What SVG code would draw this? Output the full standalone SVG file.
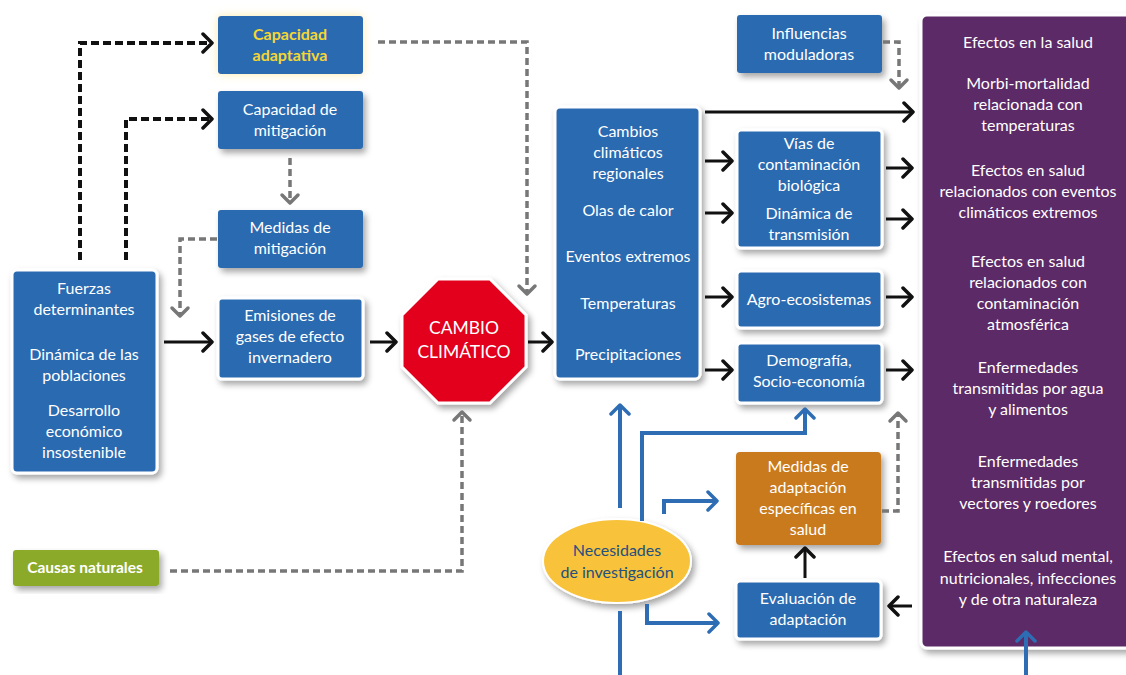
<svg xmlns="http://www.w3.org/2000/svg" width="1126" height="675" viewBox="0 0 1126 675">
<defs>
<filter id="sh" x="-20%" y="-20%" width="140%" height="140%"><feDropShadow dx="3" dy="4" stdDeviation="3" flood-color="#000" flood-opacity="0.35"/></filter>
<filter id="glow" x="-20%" y="-40%" width="140%" height="180%"><feDropShadow dx="0" dy="0" stdDeviation="5" flood-color="#FBE9A0" flood-opacity="0.9"/></filter>
<marker id="ak" markerUnits="userSpaceOnUse" markerWidth="24" markerHeight="26" refX="11" refY="12" orient="auto"><path d="M2,3 L11,12 L2,21" fill="none" stroke="#111" stroke-width="3.5" stroke-linecap="round" stroke-linejoin="round"/></marker>
<marker id="ag" markerUnits="userSpaceOnUse" markerWidth="24" markerHeight="26" refX="11" refY="12" orient="auto"><path d="M3,4 L11,12 L3,20" fill="none" stroke="#777" stroke-width="3.5" stroke-linecap="round" stroke-linejoin="round"/></marker>
<marker id="ab" markerUnits="userSpaceOnUse" markerWidth="24" markerHeight="26" refX="11" refY="12" orient="auto"><path d="M2,3 L11,12 L2,21" fill="none" stroke="#2E6DB4" stroke-width="3.5" stroke-linecap="round" stroke-linejoin="round"/></marker>
<style>
.b{fill:#2C6BB0;filter:url(#sh)}
.bw{fill:#2C6BB0;stroke:#fff;stroke-width:3;filter:url(#sh)}
.t{font-family:"Lato","Liberation Sans",sans-serif;font-size:16px;fill:#fff;text-anchor:middle}
.k{fill:none;stroke:#111;stroke-width:3}
.kd{fill:none;stroke:#111;stroke-width:4;stroke-dasharray:8 4}
.g{fill:none;stroke:#777;stroke-width:3.5;stroke-dasharray:7 4}
.bl{fill:none;stroke:#2E6DB4;stroke-width:4}
</style>
</defs>
<rect width="1126" height="675" fill="#fff"/>

<g id="capacidad-adaptativa">
<rect x="218" y="16" width="145" height="58" rx="3" fill="#2C6BB0" filter="url(#glow)"/>
<text class="t" x="290" y="40" style="fill:#F6D633;font-weight:bold">Capacidad</text>
<text class="t" x="290" y="61" style="fill:#F6D633;font-weight:bold">adaptativa</text>
</g>
<g id="capacidad-mitigacion">
<rect class="b" x="218" y="91" width="145" height="58" rx="3"/>
<text class="t" x="290" y="115">Capacidad de</text>
<text class="t" x="290" y="136">mitigación</text>
</g>
<g id="medidas-mitigacion">
<rect class="b" x="218" y="210" width="145" height="58" rx="3"/>
<text class="t" x="290" y="233">Medidas de</text>
<text class="t" x="290" y="254">mitigación</text>
</g>
<g id="fuerzas">
<rect class="bw" x="12" y="270" width="145" height="203" rx="5"/>
<text class="t" x="84" y="294">Fuerzas</text>
<text class="t" x="84" y="315">determinantes</text>
<text class="t" x="84" y="360">Dinámica de las</text>
<text class="t" x="84" y="381">poblaciones</text>
<text class="t" x="84" y="416">Desarrollo</text>
<text class="t" x="84" y="437">económico</text>
<text class="t" x="84" y="458">insostenible</text>
</g>
<g id="emisiones">
<rect class="bw" x="218" y="298" width="145" height="81" rx="4"/>
<text class="t" x="290" y="321">Emisiones de</text>
<text class="t" x="290" y="342">gases de efecto</text>
<text class="t" x="290" y="363">invernadero</text>
</g>
<g id="cambio-climatico">
<polygon points="438,279 490,279 526,315 526,367 490,403 438,403 402,367 402,315" fill="#E2001A" stroke="#fff" stroke-width="3" filter="url(#sh)"/>
<text class="t" x="464" y="334" style="font-size:17.5px">CAMBIO</text>
<text class="t" x="464" y="358" style="font-size:17.5px">CLIMÁTICO</text>
</g>
<g id="causas-naturales">
<rect x="13" y="550" width="146" height="36" rx="3" fill="#8CAA2B" filter="url(#sh)"/>
<text class="t" x="85" y="573" style="font-weight:bold;font-size:15.5px">Causas naturales</text>
</g>
<g id="cambios-regionales">
<rect class="bw" x="555" y="107" width="145" height="272" rx="5"/>
<text class="t" x="628" y="137">Cambios</text>
<text class="t" x="628" y="158">climáticos</text>
<text class="t" x="628" y="179">regionales</text>
<text class="t" x="628" y="216">Olas de calor</text>
<text class="t" x="628" y="262">Eventos extremos</text>
<text class="t" x="628" y="309">Temperaturas</text>
<text class="t" x="628" y="360">Precipitaciones</text>
</g>
<g id="vias">
<rect class="bw" x="737" y="130" width="145" height="118" rx="4"/>
<text class="t" x="809" y="149">Vías de</text>
<text class="t" x="809" y="170">contaminación</text>
<text class="t" x="809" y="191">biológica</text>
<text class="t" x="809" y="219">Dinámica de</text>
<text class="t" x="809" y="240">transmisión</text>
</g>
<g id="agro">
<rect class="bw" x="737" y="271" width="145" height="57" rx="4"/>
<text class="t" x="809" y="305">Agro-ecosistemas</text>
</g>
<g id="demografia">
<rect class="bw" x="737" y="343" width="145" height="60" rx="4"/>
<text class="t" x="809" y="366">Demografía,</text>
<text class="t" x="809" y="387">Socio-economía</text>
</g>
<g id="influencias">
<rect class="b" x="737" y="15" width="145" height="58" rx="3"/>
<text class="t" x="809" y="39">Influencias</text>
<text class="t" x="809" y="60">moduladoras</text>
</g>
<g id="efectos-salud">
<rect x="921" y="15" width="215" height="633" rx="6" fill="#5C2A66" stroke="#fff" stroke-width="3" filter="url(#sh)"/>
<text class="t" x="1028" y="48">Efectos en la salud</text>
<text class="t" x="1028" y="89">Morbi-mortalidad</text>
<text class="t" x="1028" y="110">relacionada con</text>
<text class="t" x="1028" y="131">temperaturas</text>
<text class="t" x="1028" y="176">Efectos en salud</text>
<text class="t" x="1028" y="197">relacionados con eventos</text>
<text class="t" x="1028" y="218">climáticos extremos</text>
<text class="t" x="1028" y="267">Efectos en salud</text>
<text class="t" x="1028" y="288">relacionados con</text>
<text class="t" x="1028" y="309">contaminación</text>
<text class="t" x="1028" y="330">atmosférica</text>
<text class="t" x="1028" y="373">Enfermedades</text>
<text class="t" x="1028" y="394">transmitidas por agua</text>
<text class="t" x="1028" y="415">y alimentos</text>
<text class="t" x="1028" y="467">Enfermedades</text>
<text class="t" x="1028" y="488">transmitidas por</text>
<text class="t" x="1028" y="509">vectores y roedores</text>
<text class="t" x="1028" y="562">Efectos en salud mental,</text>
<text class="t" x="1028" y="584">nutricionales, infecciones</text>
<text class="t" x="1028" y="605">y de otra naturaleza</text>
</g>
<g id="medidas-adaptacion">
<rect x="736" y="452" width="145" height="93" rx="4" fill="#C97A1E" filter="url(#sh)"/>
<text class="t" x="808" y="472">Medidas de</text>
<text class="t" x="808" y="493">adaptación</text>
<text class="t" x="808" y="514">específicas en</text>
<text class="t" x="808" y="535">salud</text>
</g>
<g id="evaluacion">
<rect class="bw" x="736" y="581" width="145" height="58" rx="4"/>
<text class="t" x="808" y="604">Evaluación de</text>
<text class="t" x="808" y="625">adaptación</text>
</g>
<g id="necesidades">
<ellipse cx="617" cy="561" rx="74" ry="42" fill="#F8C23A" stroke="#fff" stroke-width="2" filter="url(#sh)"/>
<text class="t" x="617" y="556" style="fill:#24507F">Necesidades</text>
<text class="t" x="617" y="578" style="fill:#24507F">de investigación</text>
</g>

<g id="connectors">
<path class="kd" d="M80,260 V43 H212" marker-end="url(#ak)"/>
<path class="kd" d="M126,260 V119 H212" marker-end="url(#ak)"/>
<path class="g" d="M290,158 V203" marker-end="url(#ag)"/>
<path class="g" d="M217,239 H180 V316" marker-end="url(#ag)"/>
<path class="k" d="M164,342 H212" marker-end="url(#ak)"/>
<path class="k" d="M370,342 H396" marker-end="url(#ak)"/>
<path class="k" d="M528,342 H552" marker-end="url(#ak)"/>
<path class="g" d="M378,42 H527 V294" marker-end="url(#ag)"/>
<path class="g" d="M170,571 H462 V412" marker-end="url(#ag)"/>
<path class="k" d="M705,112 H913" marker-end="url(#ak)"/>
<path class="k" d="M705,161 H732" marker-end="url(#ak)"/>
<path class="k" d="M705,213 H732" marker-end="url(#ak)"/>
<path class="k" d="M705,297 H732" marker-end="url(#ak)"/>
<path class="k" d="M705,370 H732" marker-end="url(#ak)"/>
<path class="k" d="M886,168 H912" marker-end="url(#ak)"/>
<path class="k" d="M886,219 H912" marker-end="url(#ak)"/>
<path class="k" d="M886,297 H912" marker-end="url(#ak)"/>
<path class="k" d="M886,370 H912" marker-end="url(#ak)"/>
<path class="g" d="M883,42 H899 V88" marker-end="url(#ag)"/>
<path class="g" d="M882,511 H898 V413" marker-end="url(#ag)"/>
<path class="k" d="M805,578 V548" marker-end="url(#ak)"/>
<path class="k" d="M912,606 H889" marker-end="url(#ak)"/>
<path class="bl" d="M620,508 V405" marker-end="url(#ab)"/>
<path class="bl" d="M642,521 V433 H805 V409" marker-end="url(#ab)"/>
<path class="bl" d="M664,514 V501 H717" marker-end="url(#ab)"/>
<path class="bl" d="M647,604 V623 H718" marker-end="url(#ab)"/>
<path class="bl" d="M620,611 V675"/>
<path class="bl" d="M1026,675 V632" marker-end="url(#ab)"/>
</g>
</svg>
